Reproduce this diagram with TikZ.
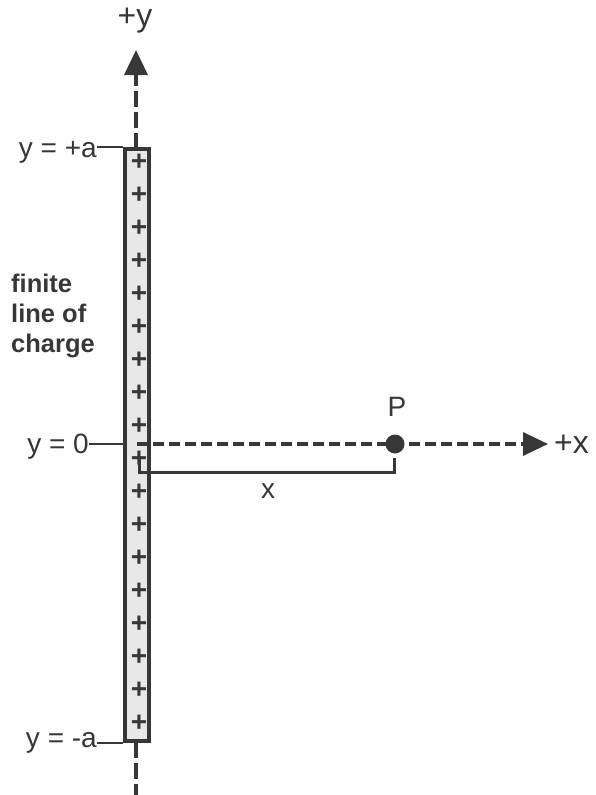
\documentclass[tikz,border=0pt]{standalone}
\usepackage{fontspec}
\setmainfont{Liberation Sans}
\usepackage{tikz}
\usetikzlibrary{arrows.meta,positioning,calc}
\usepackage{xcolor}
\definecolor{ink}{RGB}{55,55,55}
\definecolor{rodgrey}{RGB}{232,232,232}
\tikzset{
    lbl/.style={font=\fontsize{28}{32}\selectfont, text=ink, inner sep=0pt},
    axlbl/.style={font=\fontsize{32}{36}\selectfont, text=ink, inner sep=0pt},
    note/.style={font=\fontsize{25.5}{30}\selectfont\bfseries, text=ink,
                 align=left, inner sep=0pt},
    rod/.style={draw=ink, line width=4pt, fill=rodgrey,
                minimum width=24pt, minimum height=592pt, inner sep=0pt},
    charge/.style={font=\fontsize{28}{28}\selectfont\bfseries, text=ink,
                   inner sep=0pt},
    dot/.style={circle, fill=ink, minimum size=19pt, inner sep=0pt},
}

\begin{document}
\begin{tikzpicture}[
    x=1pt, y=-1pt,
    axis/.style={line width=3.5pt, ink, -{Triangle[length=25pt, width=23pt]}},
    tick/.style={line width=1.1pt, ink},
    bracket/.style={line width=3pt, ink},
]
    \useasboundingbox (0,0) rectangle (595,795);

    % y axis, under the rod
    \coordinate (ybot) at (136,800);
    \coordinate (ytop) at (136,50);
    \draw[axis, dash pattern=on 16pt off 5pt] (ybot) -- (ytop);
    \node[axlbl] (ylbl) at (135,21) {+y};

    % the line of charge
    \node[rod] (rod) at (137,445) {};
    \foreach \k in {0,...,17}
        \node[charge] (q\k) at (139,{162+33*\k}) {+};

    % labels on the left
    \node[lbl, anchor=east] (ya) at (97,152) {y = +a};
    \node[lbl, anchor=east] (yo) at (89,447) {y = 0};
    \node[lbl, anchor=east] (ym) at (97,743) {y = -a};
    \node[note, anchor=west] (fin) at (11,316) {finite\\line of\\charge};

    \coordinate (o) at (137,444);
    \draw[tick] (ya.east |- rod.north west) -- (rod.north west);
    \draw[tick] (yo.east |- o) -- (o -| rod.west);
    \draw[tick] (ym.east |- rod.south west) -- (rod.south west);

    % x axis and the point P
    \coordinate (xtip) at (548,444);
    \draw[axis, dash pattern=on 11pt off 5pt] (o) -- (xtip);
    \node[axlbl, anchor=west] (xlbl) at (554,444) {+x};
    \node[dot] (P) at (395,444) {};
    \node[lbl] (Plbl) at (397,407) {P};

    % distance x
    \coordinate (bl) at (139,456);
    \coordinate (br) at (394,458);
    \draw[bracket] (bl) -- ++(0,16) -| (br);
    \node[lbl] (dx) at (268,491) {x};
\end{tikzpicture}
\end{document}
